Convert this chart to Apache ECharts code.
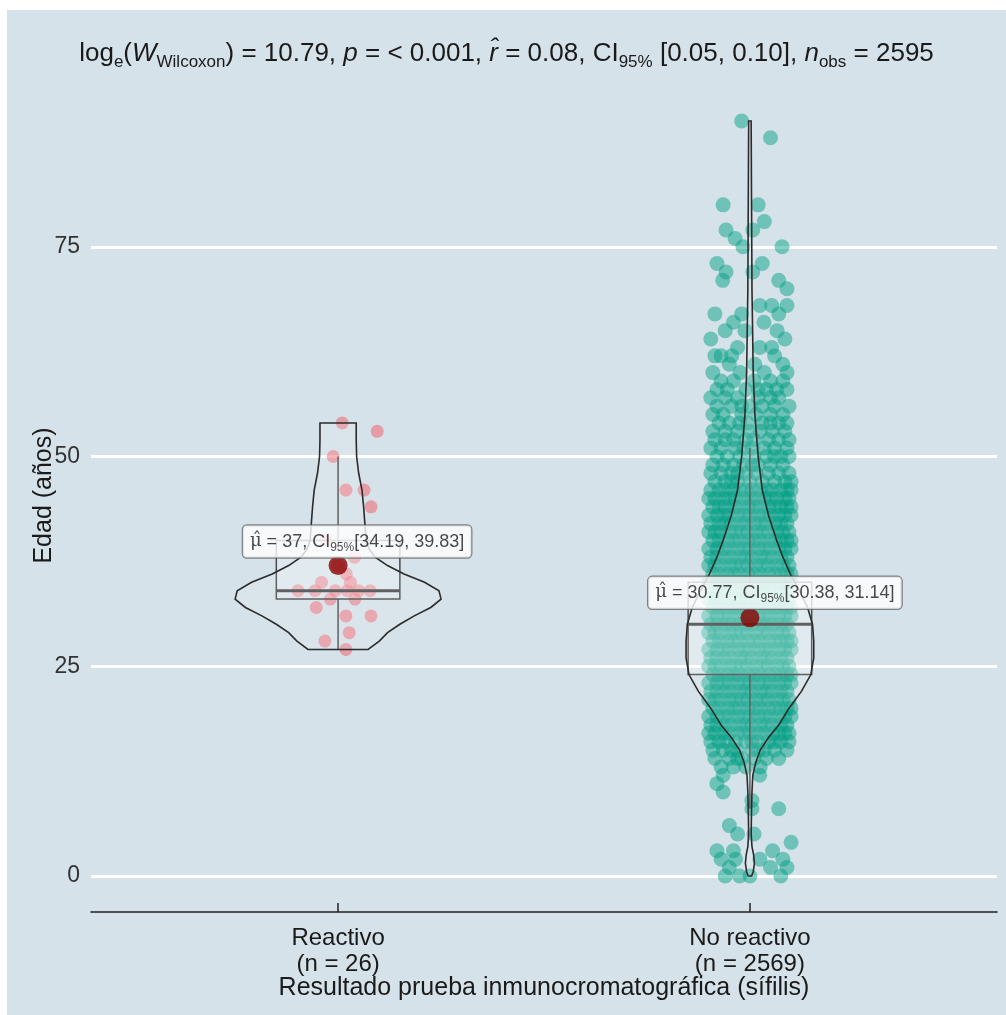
<!DOCTYPE html>
<html>
<head>
<meta charset="utf-8">
<script src="https://cdn.jsdelivr.net/npm/echarts@6/dist/echarts.min.js"></script>
<style>
html, body { margin: 0; padding: 0; background: #fff; }
#chart { position: absolute; left: 7px; top: 10px; width: 999px; height: 1005px; }
</style>
</head>
<body>
<div id="chart"></div>
<script>
var groups = ["Reactivo", "No reactivo"];
var groupN = [26, 2569];
var yTicks = [0, 25, 50, 75];

// Reactivo: ages and jitter offsets (hundredths of a category width)
var reactivoAges = [54, 53, 50, 46, 46, 44, 34, 34, 34, 34, 34, 33, 33, 32, 31, 31, 29, 28, 27, 37, 38, 40, 36, 35, 34, 35];
var reactivoJitter = [1, 9.5, -1.2, 1.9, 6.3, 8, -9.7, -5.6, -0.7, 2.2, 7.8, -1.9, 4.1, -5.3, 1.9, 8, 2.7, -3.2, 1.9, 0, 4, -3, 2, -4, 5, 3];

// No reactivo: [age, jitter offsets] rows
var noReactivoRows = [
  [90, [-2]], [88, [5]], [80, [-6.5, 2]], [78, [3.5]], [77, [-5.8, 0.7]], [76, [-3.6]],
  [75, [-1.7, 7.8]], [73, [-8, 3]], [72, [-5.8, 0.7]], [71, [-6.6, 7]], [70, [9]],
  [68, [2.4, 5.3, 9]], [67, [-8.5, -2, 7]], [66, [-4, 3.4]], [65, [-6, -1.2, 6.6]],
  [64, [-9.5, 8.5]], [63, [-3, 2.4, 5.3]], [62, [-8.5, -7, -4.4, 6]], [61, [-5, 1.2, 8]],
  [60, [-9, -2.4, 3.5, 9]], [59, [-7, -4, 1, 5, 8]], [58, [-8, -5.5, -1, 2, 4, 6.5, 9]],
  [57, [-9.5, -6, -3, 2, 5, 7]], [56, [-8, -4.5, -2, 0, 3, 6, 9.5]], [55, [-9, -6.5, -2, 1.5, 5, 8]],
  [54, [-7.5, -5, -2.5, -0.5, 3, 5, 7, 9]], [53, [-9, -6, -3, 0, 2.5, 5.5, 8.5]],
  [52, [-8.5, -6, -4, -1, 1, 4.5, 7, 9.5]], [51, [-9.5, -7, -3.5, -1.5, 0.5, 3.5, 6, 9]],
  [50, [-8, -5.5, -2.5, 1, 4, 6, 7.5, 9.5]], [49, [-9, -6.5, -4, -1.5, 0.5, 2, 5, 8]],
  [48, [-9.5, -7, -4.5, -3, -1, 1.5, 4.5, 7, 9.5]], [47, [-8.5, -6, -4.5, -3, 0, 3, 6, 8.5, 10]],
  [46, [-9.5, -7.5, -6, -4, -2.5, -1, 0.5, 2.5, 4, 5.5, 7.5, 9, 10]],
  [45, [-10, -8.5, -6.5, -5, -3.5, -1.5, 0, 1.5, 3.5, 5, 6.5, 8.5, 9.5]],
  [44, [-9, -7.5, -6, -4, -2.5, -0.5, 1, 2.5, 4.5, 6, 7.5, 9, 10]],
  [43, [-10, -8, -6.5, -5, -3, -1.5, 0, 2, 3.5, 5, 7, 8.5, 10]],
  [42, [-9.5, -7.5, -6, -4.5, -2.5, -1, 1, 2.5, 4, 6, 7.5, 9]],
  [41, [-10, -8.5, -7, -5, -3.5, -2, -0.5, 1.5, 3, 4.5, 6.5, 8, 9.5]],
  [40, [-9, -7.5, -5.5, -4, -2.5, -0.5, 1, 2.5, 4.5, 6, 7.5, 9, 10]],
  [39, [-10, -8, -6.5, -5, -3, -1.5, 0, 2, 3.5, 5, 7, 8.5, 10]],
  [38, [-9.5, -8, -6, -4.5, -2.5, -1, 0.5, 2.5, 4, 5.5, 7.5, 9]],
  [37, [-10, -8.5, -7, -5, -3.5, -2, -0.5, 1.5, 3, 4.5, 6.5, 8, 9.5]],
  [36, [-9, -7.5, -5.5, -4, -2.5, -0.5, 1, 2.5, 4.5, 6, 7.5, 9, 10]],
  [35, [-10, -8, -6.5, -5, -3, -1.5, 0, 2, 3.5, 5, 7, 8.5, 10]],
  [34, [-9.5, -8, -6, -4.5, -2.5, -1, 0.5, 2.5, 4, 5.5, 7.5, 9]],
  [33, [-10, -8.5, -7, -5, -3.5, -2, -0.5, 1.5, 3, 4.5, 6.5, 8, 9.5]],
  [32, [-9, -7.5, -5.5, -4, -2.5, -0.5, 1, 2.5, 4.5, 6, 7.5, 9, 10]],
  [31, [-10, -8, -6.5, -5, -3, -1.5, 0, 2, 3.5, 5, 7, 8.5, 10]],
  [30, [-9.5, -8, -6, -4.5, -2.5, -1, 0.5, 2.5, 4, 5.5, 7.5, 9]],
  [29, [-10, -8.5, -7, -5, -3.5, -2, -0.5, 1.5, 3, 4.5, 6.5, 8, 9.5]],
  [28, [-9, -7.5, -5.5, -4, -2.5, -0.5, 1, 2.5, 4.5, 6, 7.5, 9, 10]],
  [27, [-10, -8, -6.5, -5, -3, -1.5, 0, 2, 3.5, 5, 7, 8.5, 10]],
  [26, [-9.5, -8, -6, -4.5, -2.5, -1, 0.5, 2.5, 4, 5.5, 7.5, 9]],
  [25, [-10, -8.5, -7, -5, -3.5, -2, -0.5, 1.5, 3, 4.5, 6.5, 8, 9.5]],
  [24, [-9, -7.5, -5.5, -4, -2.5, -0.5, 1, 2.5, 4.5, 6, 7.5, 9, 10]],
  [23, [-10, -8, -6.5, -5, -3, -1.5, 0, 2, 3.5, 5, 7, 8.5, 10]],
  [22, [-9.5, -8, -6, -4.5, -2.5, -1, 0.5, 2.5, 4, 5.5, 7.5, 9]],
  [21, [-10, -8.5, -7, -5, -3.5, -2, -0.5, 1.5, 3, 4.5, 6.5, 8, 9.5]],
  [20, [-9, -7.5, -5.5, -4, -2.5, -0.5, 1, 2.5, 4.5, 6, 7.5, 9, 10]],
  [19, [-10, -8, -6.5, -5, -3, -1.5, 0, 2, 3.5, 5, 7, 8.5, 10]],
  [18, [-9.5, -8, -6, -4.5, -2.5, -1, 0.5, 2.5, 4, 5.5, 7.5, 9]],
  [17, [-10, -8.5, -6.5, -5, -3, -1.5, 0, 2, 3.5, 5.5, 7, 8.5, 9.5]],
  [16, [-9.5, -7.5, -6, -3.5, -1, 0.5, 2, 4.5, 6, 7.5, 9.5]], [15, [-9, -6.5, -4.5, -3, 0.5, 2, 3.5, 6, 9]],
  [14, [-8.5, -5, -3, -2, 1, 4, 7]], [13, [-7, -4, -1, 2.5]], [12, [-6.5, 2.4]],
  [11, [-8]], [10, [-6.5]], [9, [0.5]], [8, [0.5, 7]], [6, [-5]], [5, [-3, 1]],
  [4, [10]], [3, [-8, -4, 5.5]], [2, [-7, -3.5, 2.4, 8]], [1, [-5, 5, 9]], [0, [-6, -2.5, 0, 7.5]]
];

// violin outlines: [age, half width in category units]
var reactivoViolin = [[27, 0.073], [28, 0.1], [29, 0.12], [30, 0.15], [31, 0.185], [32, 0.225], [33, 0.25],
  [34, 0.245], [35, 0.21], [36, 0.16], [37, 0.12], [38, 0.09], [39, 0.075], [40, 0.068], [42, 0.065],
  [44, 0.062], [46, 0.058], [48, 0.05], [50, 0.045], [52, 0.044], [54, 0.044]];
var noReactivoViolin = [[0, 0.004], [0.5, 0.008], [1.5, 0.011], [2.5, 0.009], [3.5, 0.005], [5, 0.003],
  [8, 0.004], [10, 0.005], [12, 0.007], [13.5, 0.014], [15, 0.025], [16.5, 0.045], [18, 0.07], [20, 0.095],
  [22, 0.125], [24, 0.148], [26, 0.155], [28, 0.155], [30, 0.152], [32, 0.14], [34, 0.12], [36, 0.098],
  [38, 0.08], [40, 0.065], [43, 0.045], [46, 0.03], [50, 0.02], [55, 0.012], [60, 0.008], [70, 0.005],
  [80, 0.004], [90, 0.003]];

// box stats: [lower whisker, Q1, median, Q3, upper whisker]
var boxStats = [[27, 33, 34, 40, 50], [8, 24, 30, 35, 51]];
var means = [37, 30.77];
var meanText = ["37", "30.77"];
var ciLow = ["34.19", "30.38"];
var ciHigh = ["39.83", "31.14"];

var reactivoData = reactivoAges.map(function (a, i) { return [1 + reactivoJitter[i] / 100, a]; });
var noReactivoData = [];
noReactivoRows.forEach(function (r) {
  r[1].forEach(function (o) { noReactivoData.push([2 + o / 100, r[0]]); });
});
var violins = [reactivoViolin, noReactivoViolin];

var chart = echarts.init(document.getElementById("chart"));
var font = "Liberation Sans, Arial, sans-serif";
var txt = "#1a1a1a";

var option = {
  backgroundColor: "#d5e2e9",
  animation: false,
  textStyle: { fontFamily: font },
  title: {
    left: "center",
    top: 22,
    text: "{t|log}{s|e}{t|(}{i|W}{s|Wilcoxon}{t|) = 10.79, }{i|p}{t| = < 0.001, }{i|r\u0302}{t| = 0.08, CI}{s|95%}{t| [0.05, 0.10], }{i|n}{s|obs}{t| = 2595}",
    textStyle: {
      fontWeight: "normal",
      rich: {
        t: { fontSize: 26, color: txt, lineHeight: 34, fontWeight: "normal", fontFamily: font },
        i: { fontSize: 26, color: txt, lineHeight: 34, fontWeight: "normal", fontStyle: "italic", fontFamily: font },
        s: { fontSize: 17, color: txt, lineHeight: 19, fontWeight: "normal", verticalAlign: "bottom", fontFamily: font }
      }
    }
  },
  grid: { left: 84, right: 9, top: 69, bottom: 103 },
  xAxis: {
    type: "value",
    min: 0.4,
    max: 2.6,
    name: "Resultado prueba inmunocromatográfica (sífilis)",
    nameLocation: "middle",
    nameMoveOverlap: false,
    nameGap: 64,
    nameTextStyle: { fontSize: 25, color: txt },
    axisLine: { show: true, onZero: false, lineStyle: { color: "#222", width: 1.5 } },
    axisTick: { show: true, inside: true, length: 9, customValues: [1, 2], lineStyle: { color: "#222", width: 1.5 } },
    axisLabel: {
      customValues: [1, 2],
      margin: 13,
      fontSize: 24,
      lineHeight: 26,
      color: txt,
      formatter: function (v) {
        var i = Math.round(v) - 1;
        return groups[i] + "\n(n = " + groupN[i] + ")";
      }
    },
    splitLine: { show: false }
  },
  yAxis: {
    type: "value",
    min: -4.3,
    max: 95,
    name: "Edad (años)",
    nameLocation: "middle",
    nameMoveOverlap: false,
    nameGap: 34,
    nameTextStyle: { fontSize: 25, color: txt },
    axisLine: { show: false },
    axisTick: { show: false, customValues: yTicks },
    axisLabel: { customValues: yTicks, fontSize: 23, color: "#333", margin: 11 },
    splitLine: { show: true, lineStyle: { color: "#ffffff", width: 3 } }
  },
  series: [
    {
      type: "scatter", silent: true, z: 2,
      symbolSize: 13,
      itemStyle: { color: "rgba(245, 80, 95, 0.6)" },
      data: reactivoData
    },
    {
      type: "scatter", silent: true, z: 2,
      symbolSize: 15,
      itemStyle: { color: "rgba(0, 158, 132, 0.6)" },
      data: noReactivoData
    },
    {
      type: "custom", silent: true, z: 3,
      data: [[1, boxStats[0][2]], [2, boxStats[1][2]]],
      encode: { x: 0, y: 1 },
      renderItem: function (params, api) {
        var x = api.value(0);
        var s = boxStats[params.dataIndex];
        var hw = 0.15;
        var lt = api.coord([x - hw, s[3]]);
        var rb = api.coord([x + hw, s[1]]);
        var m1 = api.coord([x - hw, s[2]]);
        var m2 = api.coord([x + hw, s[2]]);
        var wt1 = api.coord([x, s[4]]), wt2 = api.coord([x, s[3]]);
        var wb1 = api.coord([x, s[1]]), wb2 = api.coord([x, s[0]]);
        var st = { stroke: "#4a4a4a", lineWidth: 1.5 };
        return {
          type: "group",
          children: [
            { type: "line", shape: { x1: wt1[0], y1: wt1[1], x2: wt2[0], y2: wt2[1] }, style: st },
            { type: "line", shape: { x1: wb1[0], y1: wb1[1], x2: wb2[0], y2: wb2[1] }, style: st },
            { type: "rect", shape: { x: lt[0], y: lt[1], width: rb[0] - lt[0], height: rb[1] - lt[1] },
              style: { fill: "rgba(255,255,255,0.2)", stroke: "#4a4a4a", lineWidth: 1.5 } },
            { type: "line", shape: { x1: m1[0], y1: m1[1], x2: m2[0], y2: m2[1] }, style: { stroke: "#4a4a4a", lineWidth: 3 } }
          ]
        };
      }
    },
    {
      type: "custom", silent: true, z: 4,
      data: [[1, means[0]], [2, means[1]]],
      encode: { x: 0, y: 1 },
      renderItem: function (params, api) {
        var x = api.value(0);
        var v = violins[params.dataIndex];
        var pts = [];
        for (var i = 0; i < v.length; i++) pts.push(api.coord([x + v[i][1], v[i][0]]));
        for (var j = v.length - 1; j >= 0; j--) pts.push(api.coord([x - v[j][1], v[j][0]]));
        return {
          type: "polygon",
          shape: { points: pts, smooth: 0 },
          style: { fill: "rgba(255,255,255,0.12)", stroke: "#2b2b2b", lineWidth: 1.6 }
        };
      }
    },
    {
      type: "scatter", silent: true, z: 5,
      symbolSize: 19,
      itemStyle: { color: "#8b0000" },
      data: means.map(function (m, i) {
        return {
          value: [i + 1, m],
          label: {
            show: true,
            position: "inside",
            offset: i === 0 ? [19, -24] : [25, -25],
            backgroundColor: "#ffffff",
            borderColor: "#666",
            borderWidth: 1.2,
            borderRadius: 4,
            padding: [4, 7, 4, 7],
            formatter: "{m|\u03bc\u0302}{t| = " + meanText[i] + ", CI}{s|95%}{t|[" + ciLow[i] + ", " + ciHigh[i] + "]}",
            rich: {
              m: { fontSize: 18, color: txt, lineHeight: 24, fontFamily: "DejaVu Serif" },
              t: { fontSize: 18, color: txt, lineHeight: 24, fontFamily: font },
              s: { fontSize: 12, color: txt, lineHeight: 13, verticalAlign: "bottom", fontFamily: font }
            }
          }
        };
      })
    }
  ]
};
chart.setOption(option);
</script>
</body>
</html>
